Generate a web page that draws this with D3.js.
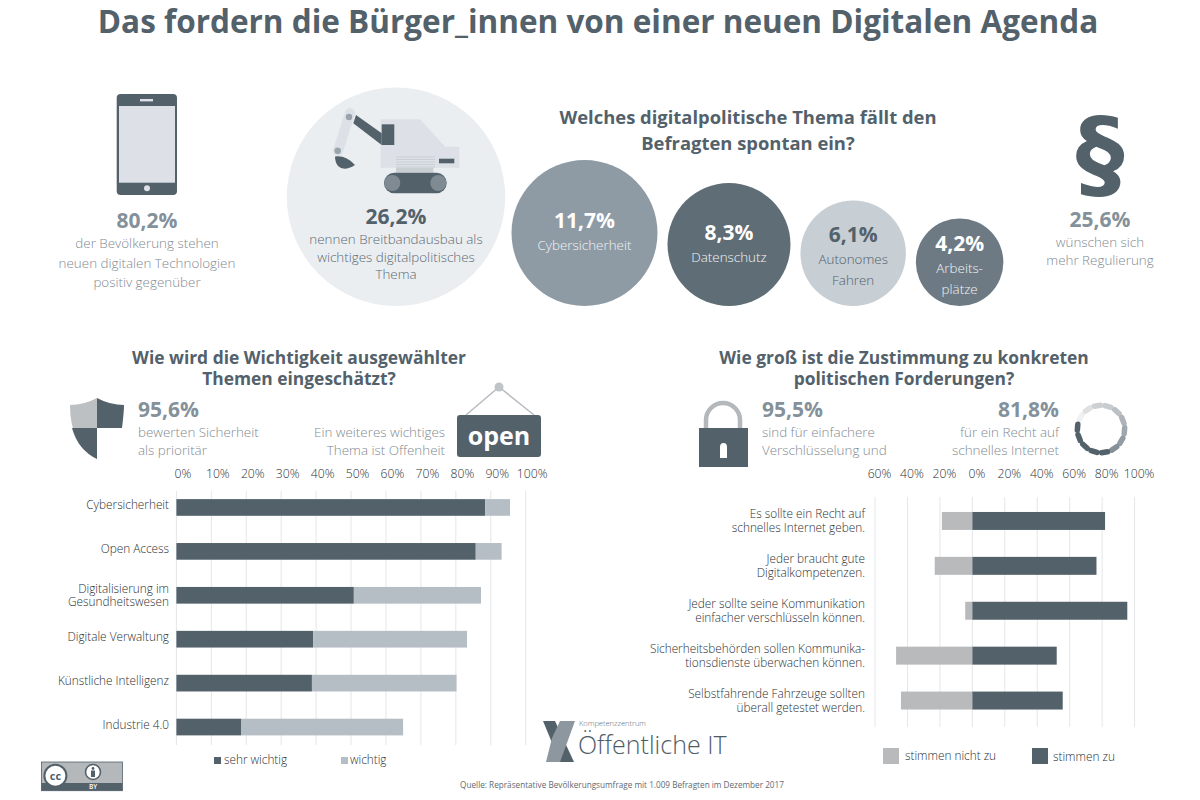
<!DOCTYPE html>
<html>
<head>
<meta charset="utf-8">
<script src="https://cdn.jsdelivr.net/npm/d3@7"></script>
<style>
  html, body { margin: 0; padding: 0; background: #fff; }
  svg { display: block; }
  text { font-family: "Open Sans", sans-serif; }
  .head { font-weight: 700; fill: #53616b; }
  .big { font-weight: 700; fill: #84919a; font-size: 21px; }
  .soft { font-weight: 300; fill: #7f8a92; font-size: 13.4px; }
  .lab { font-weight: 300; fill: #2b3034; font-size: 11.8px; }
  .axis text { font-family: "Open Sans", sans-serif; font-weight: 300; fill: #2b3034; font-size: 12.2px; }
  .axis path, .axis line { display: none; }
  .grid line { stroke: #e4e6e8; stroke-width: 1; }
</style>
</head>
<body>
<svg id="chart" width="1200" height="800"></svg>
<script>
// left chart
const themes = [['Cybersicherheit'], ['Open Access'], ['Digitalisierung im', 'Gesundheitswesen'],
  ['Digitale Verwaltung'], ['Künstliche Intelligenz'], ['Industrie 4.0']];
const sehrWichtig = [88.4, 85.7, 50.8, 39.2, 38.8, 18.5];
const wichtig = [7.1, 7.4, 36.4, 44.0, 41.4, 46.4];
const leftTicks = [0, 10, 20, 30, 40, 50, 60, 70, 80, 90, 100];

// right chart
const demands = [
  ['Es sollte ein Recht auf', 'schnelles Internet geben.'],
  ['Jeder braucht gute', 'Digitalkompetenzen.'],
  ['Jeder sollte seine Kommunikation', 'einfacher verschlüsseln können.'],
  ['Sicherheitsbehörden sollen Kommunika-', 'tionsdienste überwachen können.'],
  ['Selbstfahrende Fahrzeuge sollten', 'überall getestet werden.']
];
const stimmenZu = [81.8, 76.5, 95.5, 52.0, 55.7];
const stimmenNicht = [18.8, 23.2, 4.4, 47.0, 44.0];
const rightTicks = [-60, -40, -20, 0, 20, 40, 60, 80, 100];

// bubbles
const topics = [['Cybersicherheit'], ['Datenschutz'], ['Autonomes', 'Fahren'], ['Arbeits-', 'plätze']];
const topicValues = [11.7, 8.3, 6.1, 4.2];
const broadband = 26.2;

const dark = '#53616b';
const svg = d3.select('#chart');

function lines(sel, x, y, rows, lh, cls, anchor, fill) {
  const t = sel.append('text').attr('class', cls).attr('x', x).attr('y', y).attr('text-anchor', anchor || 'middle');
  if (fill) t.style('fill', fill);
  rows.forEach((r, i) => t.append('tspan').attr('x', x).attr('dy', i ? lh : 0).text(r));
  return t;
}

// titles
lines(svg, 598, 33, ['Das fordern die Bürger_innen von einer neuen Digitalen Agenda'], 0, 'head').style('font-size', '31.5px');
lines(svg, 748, 124, ['Welches digitalpolitische Thema fällt den', 'Befragten spontan ein?'], 26, 'head').style('font-size', '18.4px');
lines(svg, 299, 364, ['Wie wird die Wichtigkeit ausgewählter', 'Themen eingeschätzt?'], 21, 'head').style('font-size', '17.4px');
lines(svg, 904, 364, ['Wie groß ist die Zustimmung zu konkreten', 'politischen Forderungen?'], 21, 'head').style('font-size', '17.4px');

// ---- bubbles
const rScale = d3.scaleSqrt().domain([0, 11.7]).range([0, 73]);
const baseY = 306;
const bubbleFill = ['#8e9ba5', '#5f6d77', '#c7ced4', '#6d7a84'];
const bubbleText = ['#fff', '#fff', '#53616b', '#fff'];
svg.append('circle').attr('cx', 396).attr('cy', baseY - rScale(broadband)).attr('r', rScale(broadband)).attr('fill', '#eaeef1');

let cursor = 511.5;
topicValues.forEach((v, i) => {
  const r = rScale(v), cx = cursor + r, cy = baseY - r;
  cursor += 2 * r + 10;
  svg.append('circle').attr('cx', cx).attr('cy', cy).attr('r', r).attr('fill', bubbleFill[i]);
  const hy = topics[i].length > 1 ? cy - 11 : cy - 5;
  lines(svg, cx, hy, [String(v).replace('.', ',') + '%'], 0, 'big', 'middle', bubbleText[i]);
  lines(svg, cx, hy + 22, topics[i], 21, 'soft', 'middle', i === 2 ? '#53616b' : '#f2f4f5');
});

// ---- phone
const phone = svg.append('g');
phone.append('rect').attr('x', 116.7).attr('y', 94).attr('width', 60.3).attr('height', 101).attr('rx', 4).attr('fill', dark);
phone.append('rect').attr('x', 119).attr('y', 106).attr('width', 56).attr('height', 76.7).attr('fill', '#dde1e7');
phone.append('rect').attr('x', 140).attr('y', 99).attr('width', 13).attr('height', 2.4).attr('fill', '#dde1e7');
phone.append('circle').attr('cx', 147).attr('cy', 188.3).attr('r', 3).attr('fill', '#dde1e7');
lines(svg, 147, 228, ['80,2%'], 0, 'big');
lines(svg, 147, 248, ['der Bevölkerung stehen', 'neuen digitalen Technologien', 'positiv gegenüber'], 19.5, 'soft');

// ---- excavator
const ex = svg.append('g');
ex.append('polygon').attr('points', '380.7,119.3 420,119.3 445,146.7 459.3,146.7 459.3,167.7 380.7,167.7').attr('fill', '#dde1e7');
ex.append('rect').attr('x', 381.7).attr('y', 124.3).attr('width', 12.6).attr('height', 20.7).attr('fill', dark);
ex.append('polygon').attr('points', '356,115 381.7,133.3 381.7,145 353.3,123.3').attr('fill', dark);
ex.append('line').attr('x1', 350).attr('y1', 113).attr('x2', 338).attr('y2', 151).attr('stroke', '#dde1e7').attr('stroke-width', 10).attr('stroke-linecap', 'round');
ex.append('circle').attr('cx', 349).attr('cy', 117).attr('r', 3.2).attr('fill', '#98a3ac');
ex.append('circle').attr('cx', 337.7).attr('cy', 150.7).attr('r', 3.2).attr('fill', '#98a3ac');
ex.append('path').attr('d', 'M335,156.5 Q346,155 355,165 Q344,172 338,166 Q335,162 335,156.5Z').attr('fill', dark);
ex.append('rect').attr('x', 396).attr('y', 167.7).attr('width', 37.3).attr('height', 5).attr('fill', '#c9ced3');
ex.append('rect').attr('x', 384).attr('y', 172.7).attr('width', 62.7).attr('height', 20.6).attr('rx', 10.3).attr('fill', dark);
ex.selectAll('circle.wheel').data([392.3, 438.3]).join('circle').attr('class', 'wheel').attr('cx', d => d).attr('cy', 183).attr('r', 8).attr('fill', '#7f8a93');
ex.selectAll('line.st').data([157, 159.5, 162, 164.5, 167]).join('line').attr('class', 'st')
  .attr('x1', 396).attr('x2', 435).attr('y1', d => d).attr('y2', d => d).attr('stroke', '#c4cad0').attr('stroke-width', 0.8);
ex.append('rect').attr('x', 439).attr('y', 158.7).attr('width', 15.3).attr('height', 4.6).attr('fill', dark);
lines(svg, 396, 224, ['26,2%'], 0, 'big', 'middle', dark);
lines(svg, 396, 244, ['nennen Breitbandausbau als', 'wichtiges digitalpolitisches', 'Thema'], 17.5, 'soft', 'middle', '#5d6a73');

// ---- paragraph
svg.append('text').attr('x', 1100).attr('y', 188).attr('text-anchor', 'middle').text('§')
  .style('font-family', '"DejaVu Sans"').style('font-weight', 700).style('font-size', '98px').attr('fill', dark);
lines(svg, 1100, 227, ['25,6%'], 0, 'big');
lines(svg, 1100, 247, ['wünschen sich', 'mehr Regulierung'], 18, 'soft');

// ---- shield
const sh = svg.append('g');
sh.append('path').attr('d', 'M97,398 Q84,405 70,405 Q70,445 97,459Z').attr('fill', '#bcc0c3');
sh.append('path').attr('d', 'M97,398 Q110,405 124,405 Q124,412 122,428 L97,428Z').attr('fill', dark);
sh.append('path').attr('d', 'M72,428 L97,428 L97,459 Q78,450 72,428Z').attr('fill', dark);
lines(svg, 138, 417, ['95,6%'], 0, 'big', 'start');
lines(svg, 138, 437, ['bewerten Sicherheit', 'als prioritär'], 18, 'soft', 'start');
lines(svg, 445, 437, ['Ein weiteres wichtiges', 'Thema ist Offenheit'], 18, 'soft', 'end');

// ---- sign
const sign = svg.append('g');
sign.append('polyline').attr('points', '466,415 499,387 534,415').attr('fill', 'none').attr('stroke', '#b8bcc0').attr('stroke-width', 1.5);
sign.append('circle').attr('cx', 499).attr('cy', 387).attr('r', 4.5).attr('fill', '#bfc4c9');
sign.append('rect').attr('x', 457).attr('y', 415).attr('width', 84).attr('height', 42).attr('rx', 3).attr('fill', dark);
sign.append('text').attr('x', 499).attr('y', 445).attr('text-anchor', 'middle').attr('fill', '#fff')
  .style('font-weight', 700).style('font-size', '25px').text('open');

// ---- lock
const lock = svg.append('g');
lock.append('path').attr('d', 'M706,428 V420 A17,17 0 0 1 740,420 V428').attr('fill', 'none').attr('stroke', '#b4b8bb').attr('stroke-width', 4.5);
lock.append('rect').attr('x', 699).attr('y', 428).attr('width', 49).attr('height', 39).attr('fill', dark);
lock.append('path').attr('d', 'M720,458 V447 Q720,443 723.5,443 Q727,443 727,447 V458Z').attr('fill', '#fff');
lines(svg, 762, 417, ['95,5%'], 0, 'big', 'start');
lines(svg, 762, 437, ['sind für einfachere', 'Verschlüsselung und'], 18, 'soft', 'start');
lines(svg, 1059, 417, ['81,8%'], 0, 'big', 'end');
lines(svg, 1059, 437, ['für ein Recht auf', 'schnelles Internet'], 18, 'soft', 'end');

// ---- spinner
const spinColor = d3.scaleLinear().domain([0, 13]).range(['#f0f1f2', dark]);
svg.append('g').attr('transform', 'translate(1101,429)').selectAll('line').data(d3.range(14)).join('line')
  .attr('transform', d => `rotate(${-60 + d * (360 / 14)})`)
  .attr('x1', -3).attr('x2', 3).attr('y1', -23.5).attr('y2', -23.5)
  .attr('stroke-width', 5.5).attr('stroke-linecap', 'round')
  .attr('stroke', d => d < 9 ? spinColor(d < 3 ? d * 1.5 : d * 1.1) : dark);

// ---- left bar chart
const xL = d3.scaleLinear().domain([0, 100]).range([176.4, 525.7]);
const yL = d3.scaleBand().domain(d3.range(themes.length)).range([485.5, 749]).paddingInner(0.62).paddingOuter(0.31);

svg.append('g').attr('class', 'grid').selectAll('line').data(leftTicks).join('line')
  .attr('x1', d => xL(d)).attr('x2', d => xL(d)).attr('y1', 491).attr('y2', 745);
svg.append('g').attr('class', 'axis').attr('transform', 'translate(6,487)').call(d3.axisTop(xL).tickValues(leftTicks).tickFormat(d => d + '%'));

themes.forEach((rows, i) => {
  const y = yL(i);
  svg.append('rect').attr('x', xL(0)).attr('y', y).attr('width', xL(sehrWichtig[i]) - xL(0)).attr('height', yL.bandwidth()).attr('fill', dark);
  svg.append('rect').attr('x', xL(sehrWichtig[i])).attr('y', y).attr('width', xL(sehrWichtig[i] + wichtig[i]) - xL(sehrWichtig[i])).attr('height', yL.bandwidth()).attr('fill', '#b5bdc5');
  const mid = y + yL.bandwidth() / 2;
  lines(svg, 169, rows.length > 1 ? mid - 2.5 : mid + 2, rows, 13.5, 'lab', 'end');
});

// ---- right bar chart
const xR = d3.scaleLinear().domain([-60, 100]).range([875, 1134.6]);
const yR = d3.scaleBand().domain(d3.range(demands.length)).range([498.5, 723]).paddingInner(0.6).paddingOuter(0.3);

svg.append('g').attr('class', 'grid').selectAll('line').data(rightTicks).join('line')
  .attr('x1', d => xR(d)).attr('x2', d => xR(d)).attr('y1', 497).attr('y2', 727);
svg.append('g').attr('class', 'axis').attr('transform', 'translate(4,487)').call(d3.axisTop(xR).tickValues(rightTicks).tickFormat(d => Math.abs(d) + '%'));

demands.forEach((rows, i) => {
  const y = yR(i);
  svg.append('rect').attr('x', xR(-stimmenNicht[i])).attr('y', y).attr('width', xR(0) - xR(-stimmenNicht[i])).attr('height', yR.bandwidth()).attr('fill', '#b8babc');
  svg.append('rect').attr('x', xR(0)).attr('y', y).attr('width', xR(stimmenZu[i]) - xR(0)).attr('height', yR.bandwidth()).attr('fill', dark);
  lines(svg, 865, y + yR.bandwidth() / 2 - 2.5, rows, 13.5, 'lab', 'end');
});

// ---- legends
svg.append('rect').attr('x', 214).attr('y', 757).attr('width', 7).attr('height', 7).attr('fill', dark);
lines(svg, 224, 764, ['sehr wichtig'], 0, 'lab', 'start');
svg.append('rect').attr('x', 341).attr('y', 757).attr('width', 7).attr('height', 7).attr('fill', '#b5bdc5');
lines(svg, 350, 764, ['wichtig'], 0, 'lab', 'start');
svg.append('rect').attr('x', 883).attr('y', 748).attr('width', 16).attr('height', 16).attr('fill', '#b8babc');
lines(svg, 905, 760, ['stimmen nicht zu'], 0, 'lab', 'start');
svg.append('rect').attr('x', 1032).attr('y', 748).attr('width', 16).attr('height', 16).attr('fill', dark);
lines(svg, 1053, 761, ['stimmen zu'], 0, 'lab', 'start');

// ---- logo
const logo = svg.append('g');
logo.append('polygon').attr('points', '543,721 555,721 574,762 560,762').attr('fill', dark);
logo.append('polygon').attr('points', '575,721 560,721 552,738 546,762 560,762').attr('fill', '#8c979f');
lines(svg, 579, 726, ['Kompetenzzentrum'], 0, 'soft', 'start', '#5d6a73').style('font-size', '7.5px');
lines(svg, 578, 754, ['Öffentliche IT'], 0, 'soft', 'start', '#4f5c66').style('font-size', '25px');

// ---- source
lines(svg, 622, 788, ['Quelle: Repräsentative Bevölkerungsumfrage mit 1.009 Befragten im Dezember 2017'], 0, 'soft', 'middle', '#5d6a73').style('font-size', '8.2px').style('font-weight', 400);

// ---- cc badge
const cc = svg.append('g');
cc.append('rect').attr('x', 41.4).attr('y', 762).attr('width', 81).attr('height', 28.7).attr('fill', '#b4b8bb').attr('stroke', dark).attr('stroke-width', 0.8);
cc.append('rect').attr('x', 41.4).attr('y', 783).attr('width', 81).attr('height', 7.7).attr('fill', dark);
cc.append('circle').attr('cx', 55.4).attr('cy', 775.7).attr('r', 11).attr('fill', '#fff').attr('stroke', dark).attr('stroke-width', 2);
cc.append('text').attr('x', 55.4).attr('y', 779.5).attr('text-anchor', 'middle').attr('fill', dark).style('font-weight', 700).style('font-size', '11px').text('cc');
cc.append('circle').attr('cx', 93).attr('cy', 772).attr('r', 7.5).attr('fill', '#fff').attr('stroke', dark).attr('stroke-width', 1.6);
cc.append('circle').attr('cx', 93).attr('cy', 768.5).attr('r', 1.4).attr('fill', dark);
cc.append('rect').attr('x', 91).attr('y', 770.5).attr('width', 4).attr('height', 6.5).attr('fill', dark);
cc.append('text').attr('x', 93).attr('y', 789.4).attr('text-anchor', 'middle').attr('fill', '#fff').style('font-size', '6.5px').style('font-weight', 600).text('BY');
</script>
</body>
</html>
